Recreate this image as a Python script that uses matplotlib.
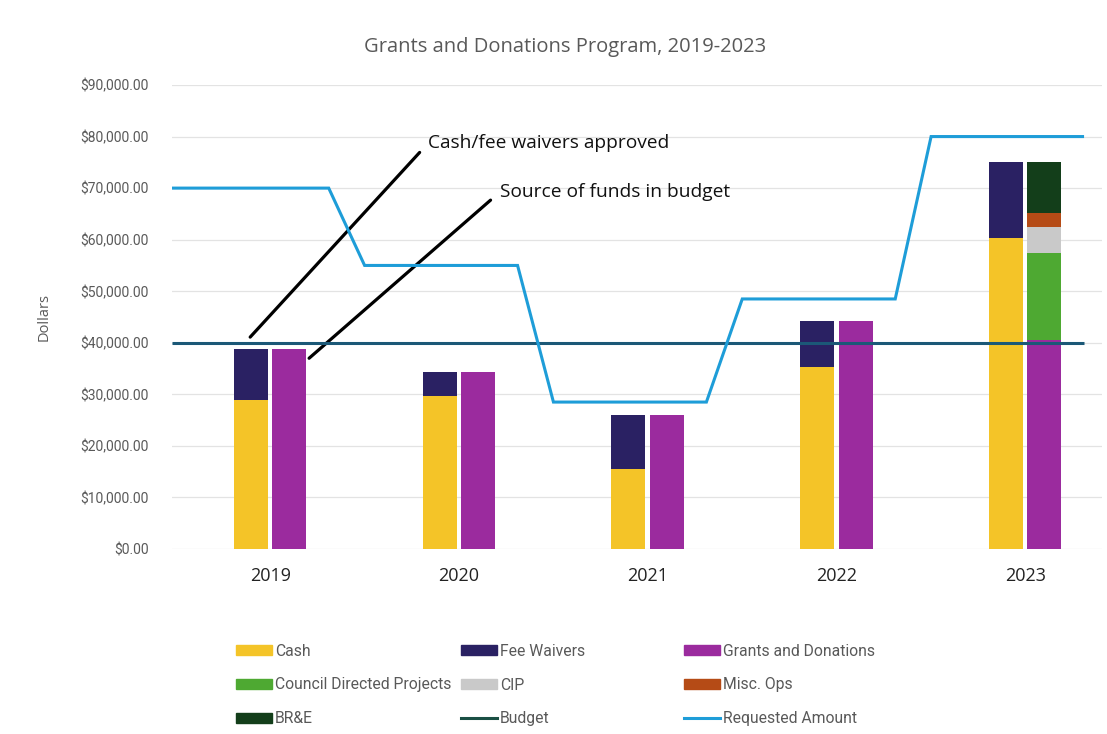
import matplotlib
matplotlib.use("Agg")
import matplotlib.pyplot as plt
from matplotlib.patches import Patch
from matplotlib.lines import Line2D
import numpy as np

years = ["2019", "2020", "2021", "2022", "2023"]

# left bar: cash / fee waivers approved
cash = [28900, 29700, 15500, 35300, 60300]
fee_waivers = [9850, 4700, 10500, 8900, 14700]

# right bar: source of funds in budget
grants = [38750, 34400, 26000, 44200, 40500]
council = [0, 0, 0, 0, 16900]
cip = [0, 0, 0, 0, 5000]
misc_ops = [0, 0, 0, 0, 2800]
bre = [0, 0, 0, 0, 9800]

budget = 40000
requested = [70000, 55000, 28500, 48500, 80000]

colors = {
    "Cash": "#F4C428",
    "Fee Waivers": "#2A2163",
    "Grants and Donations": "#9B2B9E",
    "Council Directed Projects": "#4EA932",
    "CIP": "#C9C9C9",
    "Misc. Ops": "#B54B16",
    "BR&E": "#133E1A",
    "Budget": "#1B5877",
    "Requested Amount": "#1E9DD8",
}

plt.rcParams["font.family"] = ["Open Sans", "DejaVu Sans"]

fig = plt.figure(figsize=(11.07, 7.34), dpi=100)
ax = fig.add_axes([172 / 1107, 185 / 734, 930 / 1107, 464 / 734])

x = np.arange(len(years))
w = 0.18
xl = x - 0.103
xr = x + 0.100

ax.bar(xl, cash, w, color=colors["Cash"], zorder=2)
ax.bar(xl, fee_waivers, w, bottom=cash, color=colors["Fee Waivers"], zorder=2)

bottom = np.zeros(len(years))
for name, vals in [("Grants and Donations", grants),
                   ("Council Directed Projects", council),
                   ("CIP", cip),
                   ("Misc. Ops", misc_ops),
                   ("BR&E", bre)]:
    ax.bar(xr, vals, w, bottom=bottom, color=colors[name], zorder=2)
    bottom = bottom + np.array(vals)

x_left = -0.52
# budget line
ax.plot([x_left, x[-1] + 0.31], [budget, budget], color=colors["Budget"],
        lw=2.2, zorder=4, solid_capstyle="butt")

# requested amount: flat across each year, ramps into the next
rx, ry = [], []
for i, v in enumerate(requested):
    rx += [x_left if i == 0 else i - 0.5, i + 0.31]
    ry += [v, v]
ax.plot(rx, ry, color=colors["Requested Amount"], lw=2.2, zorder=4,
        solid_joinstyle="miter", solid_capstyle="butt")

ax.set_xlim(x_left, 4.405)
ax.set_ylim(0, 90000)
ax.set_yticks(np.arange(0, 90001, 10000))
ax.set_yticklabels([f"${v:,.2f}" for v in range(0, 90001, 10000)],
                   color="#595959", fontsize=10, family=["Roboto", "DejaVu Sans"])
ax.tick_params(axis="y", length=0, pad=17)
ax.set_xticks(x)
ax.set_xticklabels(years, fontsize=13, color="#222222")
ax.tick_params(axis="x", length=0, pad=13)
ax.grid(axis="y", color="#E3E3E3", lw=0.9, zorder=0)
for s in ax.spines.values():
    s.set_visible(False)
ax.set_ylabel("Dollars", color="#595959", fontsize=10.5, labelpad=20)

fig.text(565 / 1107, 1 - 47 / 734, "Grants and Donations Program, 2019-2023",
         ha="center", va="center", fontsize=14.5, color="#595959")

# callouts
ax.annotate("Cash/fee waivers approved", xy=(-0.106, 41100), xytext=(0.836, 78700),
            fontsize=13.8, color="#111111", va="center", ha="left",
            arrowprops=dict(arrowstyle="-", lw=2.3, color="black",
                            shrinkA=6, shrinkB=0, relpos=(0, 0.5)))
ax.annotate("Source of funds in budget", xy=(0.206, 37000), xytext=(1.215, 69200),
            fontsize=13.8, color="#111111", va="center", ha="left",
            arrowprops=dict(arrowstyle="-", lw=2.3, color="black",
                            shrinkA=6, shrinkB=0, relpos=(0, 0.5)))

columns = [
    [Patch(color=colors["Cash"], label="Cash"),
     Patch(color=colors["Council Directed Projects"], label="Council Directed Projects"),
     Patch(color=colors["BR&E"], label="BR&E")],
    [Patch(color=colors["Fee Waivers"], label="Fee Waivers"),
     Patch(color=colors["CIP"], label="CIP"),
     Line2D([0], [0], color="#1A4F44", lw=2.2, label="Budget")],
    [Patch(color=colors["Grants and Donations"], label="Grants and Donations"),
     Patch(color=colors["Misc. Ops"], label="Misc. Ops"),
     Line2D([0], [0], color=colors["Requested Amount"], lw=2.2, label="Requested Amount")],
]
col_x = [223, 448, 671]
for cx, hs in zip(col_x, columns):
    leg = fig.legend(handles=hs, ncol=1, loc="center left",
                     bbox_to_anchor=(cx / 1107, 1 - 685 / 734), frameon=False,
                     handlelength=2.3, handleheight=0.55, handletextpad=0.2,
                     labelspacing=1.2, borderpad=0.3,
                     prop={"family": ["Roboto", "DejaVu Sans"], "size": 11.3})
    for t in leg.get_texts():
        t.set_color("#595959")

fig.savefig("out.png", dpi=100)
